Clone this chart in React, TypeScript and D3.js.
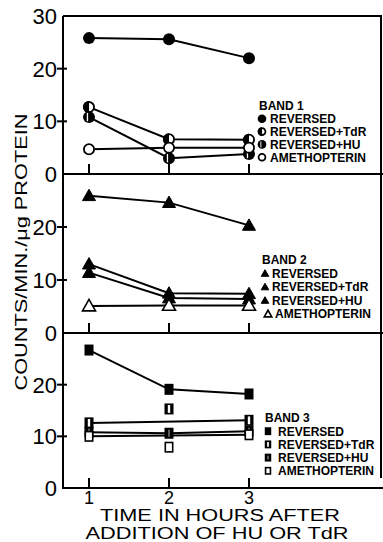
import React from "react";
import * as d3 from "d3";

// ---- data ----
const HOURS = [1, 2, 3];
const Y_TICKS = [0, 10, 20, 30];
const X_TICK_LABELS = ["1", "2", "3"];
const SERIES_NAMES = ["REVERSED", "REVERSED+TdR", "REVERSED+HU", "AMETHOPTERIN"];
const BAND_TITLES = ["BAND 1", "BAND 2", "BAND 3"];
const BAND_SHAPES = ["circle", "triangle", "square"];

const BAND1_REVERSED = [25.8, 25.6, 22.0];
const BAND1_TDR = [12.7, 6.6, 6.5];
const BAND1_HU = [10.8, 3.0, 3.8];
const BAND1_AMETH = [4.7, 5.0, 5.0];

const BAND2_REVERSED = [25.9, 24.6, 20.3];
const BAND2_TDR = [13.0, 7.5, 7.4];
const BAND2_HU = [11.4, 6.6, 6.4];
const BAND2_AMETH = [5.1, 5.2, 5.2];

const BAND3_REVERSED = [26.7, 19.1, 18.2];
const BAND3_TDR = [12.6, 15.3, 13.1];
const BAND3_HU = [10.8, 10.6, 11.0];
const BAND3_AMETH = [10.0, 7.9, 10.3];

// indices of points joined by each series' line
const LINK_ALL = [0, 1, 2];
const LINK_ENDS = [0, 2];

const BANDS = [
  { values: [BAND1_REVERSED, BAND1_TDR, BAND1_HU, BAND1_AMETH], links: [LINK_ALL, LINK_ALL, LINK_ALL, LINK_ALL] },
  { values: [BAND2_REVERSED, BAND2_TDR, BAND2_HU, BAND2_AMETH], links: [LINK_ALL, LINK_ALL, LINK_ALL, LINK_ALL] },
  { values: [BAND3_REVERSED, BAND3_TDR, BAND3_HU, BAND3_AMETH], links: [LINK_ALL, LINK_ENDS, LINK_ALL, LINK_ENDS] },
];

// ---- layout ----
const W = 383;
const H = 542;
const AXIS_X = 63;
const RIGHT = 381;
const PANEL_TOP = [16, 174, 333];
const PANEL_BOTTOM = [174, 333, 488];
const LEGEND_POS = [
  { x: 262, y: 106, textX: 270, dy: 12.8, lastIndent: 0, s: 0.72 },
  { x: 265, y: 260, textX: 272, dy: 13.5, lastIndent: 3, s: 0.58 },
  { x: 268, y: 418, textX: 278, dy: 13.2, lastIndent: 0, s: 0.72 },
];
const FONT = "'Liberation Sans', Arial, sans-serif";

const x = d3.scaleLinear().domain([1, 3]).range([89, 249]);

function Marker({ shape, kind, cx, cy, s }: { shape: string; kind: number; cx: number; cy: number; s: number }) {
  // kind: 0 filled, 1 half (TdR), 2 striped (HU), 3 open
  if (shape === "circle") {
    const r = 6 * s;
    if (kind === 0) return <circle cx={cx} cy={cy} r={r} fill="#000" />;
    if (kind === 3) return <circle cx={cx} cy={cy} r={r - 0.9} fill="#fff" stroke="#000" strokeWidth={1.8} />;
    if (kind === 1)
      return (
        <g>
          <circle cx={cx} cy={cy} r={r - 0.9} fill="#fff" stroke="#000" strokeWidth={1.8} />
          <path d={`M${cx},${cy - r} A${r},${r} 0 0 0 ${cx},${cy + r} Z`} fill="#000" />
        </g>
      );
    return (
      <g>
        <circle cx={cx} cy={cy} r={r} fill="#000" />
        <rect x={cx - 2.2 * s} y={cy - r * 0.7} width={1.3 * s} height={r * 1.4} fill="#fff" />
      </g>
    );
  }
  if (shape === "triangle") {
    const a = 6.5 * s;
    const d = `M${cx},${cy - a} L${cx + a},${cy + a * 0.75} L${cx - a},${cy + a * 0.75} Z`;
    if (kind === 3) return <path d={d} fill="#fff" stroke="#000" strokeWidth={1.6} strokeLinejoin="miter" />;
    return <path d={d} fill="#000" stroke="#000" strokeWidth={1} />;
  }
  const w = 9 * s;
  const h = 11 * s;
  if (kind === 0) return <rect x={cx - w / 2} y={cy - h / 2} width={w} height={h} fill="#000" />;
  if (kind === 3)
    return <rect x={cx - w / 2 + 0.8} y={cy - h / 2 + 0.8} width={w - 1.6} height={h - 1.6} fill="#fff" stroke="#000" strokeWidth={1.6} />;
  if (kind === 1)
    return (
      <g>
        <rect x={cx - w / 2} y={cy - h / 2} width={w} height={h} fill="#000" />
        <rect x={cx - 1.2 * s} y={cy - h / 2 + 1.6} width={2.4 * s} height={h - 3.2} fill="#fff" />
      </g>
    );
  return (
    <g>
      <rect x={cx - w / 2} y={cy - h / 2} width={w} height={h} fill="#000" />
      <rect x={cx - 0.5} y={cy - h / 2 + 2} width={1} height={h - 4} fill="#bbb" />
    </g>
  );
}

function Panel({ i }: { i: number }) {
  const top = PANEL_TOP[i];
  const bottom = PANEL_BOTTOM[i];
  const y = d3.scaleLinear().domain([0, 30]).range([bottom, top]);
  const band = BANDS[i];
  const shape = BAND_SHAPES[i];
  const ticks = i === 0 ? Y_TICKS : Y_TICKS.filter((t) => t < 30);
  const lg = LEGEND_POS[i];
  return (
    <g>
      {/* left axis */}
      <line x1={AXIS_X} x2={AXIS_X} y1={top} y2={bottom} stroke="#000" strokeWidth={2} />
      {/* bottom axis */}
      <line x1={AXIS_X - 1} x2={W} y1={bottom} y2={bottom} stroke="#000" strokeWidth={2.2} />
      {ticks.map((t) => (
        <g key={t}>
          {t > 0 && t < 30 && <line x1={AXIS_X - 6} x2={AXIS_X + 4} y1={y(t)} y2={y(t)} stroke="#000" strokeWidth={2} />}
          <text x={AXIS_X - 6} y={y(t) + 8} textAnchor="end" fontSize={22} fontFamily={FONT} fill="#000">
            {t}
          </text>
        </g>
      ))}
      {HOURS.map((h) => (
        <line key={h} x1={x(h)} x2={x(h)} y1={bottom - 10} y2={bottom} stroke="#000" strokeWidth={2} />
      ))}
      {/* lines */}
      {band.values.map((vals, si) => {
        const pts = band.links[si].map((k) => [x(HOURS[k]), y(vals[k])] as [number, number]);
        const line = d3.line();
        return <path key={si} d={line(pts) || ""} fill="none" stroke="#000" strokeWidth={2} />;
      })}
      {/* markers */}
      {band.values.map((vals, si) =>
        vals.map((v, k) => <Marker key={si + "-" + k} shape={shape} kind={si} cx={x(HOURS[k])} cy={y(v)} s={1} />)
      )}
      {/* legend */}
      <text x={lg.x - 3} y={lg.y + 4} fontSize={12} fontWeight="bold" fontFamily={FONT}>
        {BAND_TITLES[i]}
      </text>
      {SERIES_NAMES.map((n, si) => {
        const ly = lg.y + lg.dy * (si + 1);
        const ind = si === 3 ? lg.lastIndent : 0;
        return (
          <g key={n}>
            <Marker shape={shape} kind={si} cx={lg.x + ind} cy={ly} s={lg.s} />
            <text x={lg.textX + ind} y={ly + 4.3} fontSize={12} fontWeight="bold" fontFamily={FONT} fill="#000">
              {n}
            </text>
          </g>
        );
      })}
    </g>
  );
}

export default function App() {
  return (
    <svg width={W} height={H} style={{ position: "absolute", left: 0, top: 0, background: "#fff" }}>
      <rect x={0} y={0} width={W} height={H} fill="#fff" />
      {/* frame top + right */}
      <line x1={AXIS_X} x2={RIGHT + 1} y1={PANEL_TOP[0]} y2={PANEL_TOP[0]} stroke="#000" strokeWidth={2} />
      <line x1={RIGHT} x2={RIGHT} y1={PANEL_TOP[0]} y2={478} stroke="#000" strokeWidth={2} />
      {[0, 1, 2].map((i) => (
        <Panel key={i} i={i} />
      ))}
      {X_TICK_LABELS.map((t, k) => (
        <text key={t} x={x(HOURS[k])} y={504} textAnchor="middle" fontSize={18} fontFamily={FONT}>
          {t}
        </text>
      ))}
      <text x={220} y={521} textAnchor="middle" fontSize={16} fontFamily={FONT} textLength={240} lengthAdjust="spacingAndGlyphs">
        TIME IN HOURS AFTER
      </text>
      <text x={217} y={539} textAnchor="middle" fontSize={16} fontFamily={FONT} textLength={263} lengthAdjust="spacingAndGlyphs">
        ADDITION OF HU OR TdR
      </text>
      <text
        transform="translate(27,252) rotate(-90)"
        textAnchor="middle"
        fontSize={17}
        fontFamily={FONT}
        textLength={277}
        lengthAdjust="spacingAndGlyphs"
      >
        COUNTS/MIN./μg  PROTEIN
      </text>
    </svg>
  );
}
